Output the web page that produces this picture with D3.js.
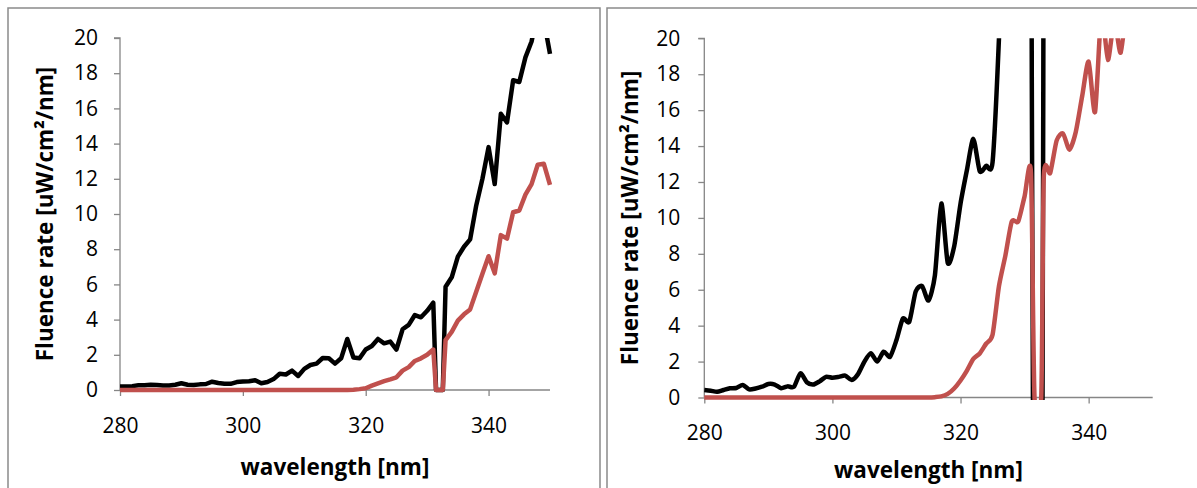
<!DOCTYPE html>
<html><head><meta charset="utf-8">
<script src="https://cdn.jsdelivr.net/npm/d3@7"></script>
<style>
html,body{margin:0;padding:0;background:#fff;}
svg{display:block;}
text{font-family:"Open Sans",sans-serif;}
</style></head>
<body>
<svg id="chart" width="1197" height="488"></svg>
<script>
// ---------- DATA ----------
const xTicks = [280, 300, 320, 340];
const yTicks = [0, 2, 4, 6, 8, 10, 12, 14, 16, 18, 20];
const xTitle = "wavelength [nm]";
const yTitle = "Fluence rate [uW/cm²/nm]";

// Left panel
const leftWl = [280,281,282,283,284,285,286,287,288,289,290,291,292,293,294,295,296,297,298,299,
  300,301,302,303,304,305,306,307,308,309,310,311,312,313,314,315,316,317,318,319,
  320,321,322,323,324,325,326,327,328,329,330,331,331.45,332.55,333,334,335,336,337,338,339,
  340,341,342,343,344,345,346,347,348,349,350];
const leftBlack = [0.2,0.2,0.22,0.27,0.27,0.3,0.28,0.25,0.26,0.3,0.38,0.3,0.28,0.32,0.34,0.47,0.4,0.35,0.35,0.45,
  0.48,0.5,0.55,0.38,0.45,0.62,0.92,0.88,1.1,0.8,1.2,1.42,1.5,1.82,1.8,1.5,1.8,2.9,1.85,1.8,
  2.3,2.5,2.9,2.65,2.75,2.3,3.45,3.7,4.26,4.13,4.5,4.96,0,0,5.87,6.4,7.58,8.14,8.56,10.5,12.0,
  13.8,11.7,15.7,15.2,17.6,17.5,18.9,19.8,21.5,21.0,19.1];
const leftRed = [0,0,0,0,0,0,0,0,0,0,0,0,0,0,0,0,0,0,0,0,
  0,0,0,0,0,0,0,0,0,0,0,0,0,0,0,0,0,0,0.02,0.05,
  0.1,0.25,0.38,0.5,0.6,0.72,1.1,1.3,1.65,1.8,2.0,2.3,0,0,2.84,3.3,3.94,4.3,4.58,5.6,6.6,
  7.6,6.63,8.8,8.6,10.1,10.2,11.1,11.7,12.8,12.85,11.65];

// Right panel
const rightBlackWl = [280,281,282,283,284,285,286,287,288,289,290,291,292,293,294,295,296,297,298,299,
  300,301,302,303,304,305,306,307,308,309,310,311,312,313,314,315,316,317,318,319,
  320,321,322,323,324,325,326,327,328,329,330,331,331.3,332.8,333,334,335,336,337,338,339,
  340,341,342,343,344,345,346,347,348,349,350];
const rightBlack = [0.42,0.38,0.32,0.42,0.51,0.53,0.7,0.45,0.5,0.6,0.75,0.72,0.52,0.62,0.6,1.35,0.85,0.72,0.9,1.15,
  1.1,1.15,1.22,0.97,1.3,2.0,2.46,2.0,2.55,2.27,3.2,4.4,4.22,5.9,6.2,5.4,6.8,10.8,7.5,8.4,
  10.8,12.67,14.4,12.6,12.9,13.1,20,30,33,35,35,35,0,0,35,36,37,38,39,40,41,
  42,43,44,45,46,47,48,49,50,51,52];
const rightRedWl = [280,281,282,283,284,285,286,287,288,289,290,291,292,293,294,295,296,297,298,299,
  300,301,302,303,304,305,306,307,308,309,310,311,312,313,314,315,316,317,318,319,
  320,321,322,323,324,325,326,327,328,329,330,331,331.55,332.6,333,334,335,336,337,338,339,
  340,341,342,343,344,345,346,347,348,349,350];
const rightRed = [0,0,0,0,0,0,0,0,0,0,0,0,0,0,0,0,0,0,0,0,
  0,0,0,0,0,0,0,0,0,0,0,0,0,0,0,0,0.02,0.06,0.2,0.5,
  0.95,1.5,2.15,2.45,3.0,3.5,6.2,7.9,9.8,9.8,11.2,12.5,0,0,12.3,12.5,14.3,14.7,13.8,14.8,16.8,
  18.7,15.9,21.5,18.8,21.0,19.2,22,23,24,24.5,25];

const colBlack = "#000000";
const colRed = "#C0504D";

// ---------- DRAW ----------
const svg = d3.select("#chart");
svg.append("rect").attr("width",1197).attr("height",488).attr("fill","#fff");

// panel borders
svg.append("rect").attr("x",8).attr("y",8).attr("width",592).attr("height",520)
  .attr("fill","none").attr("stroke","#8a8a8a").attr("stroke-width",1.5);
svg.append("rect").attr("x",607).attr("y",8).attr("width",620).attr("height",520)
  .attr("fill","none").attr("stroke","#8a8a8a").attr("stroke-width",1.5);

function drawPanel(cfg){
  const g = svg.append("g");
  const x = d3.scaleLinear().domain([280,350]).range([cfg.x0, cfg.x1]);
  const y = d3.scaleLinear().domain([0,20]).range([cfg.y0, cfg.y1]);

  const clipId = "clip" + cfg.id;
  svg.append("clipPath").attr("id", clipId).append("rect")
    .attr("x", cfg.x0 - 5).attr("y", cfg.y1).attr("width", cfg.x1 - cfg.x0 + 10)
    .attr("height", cfg.y0 - cfg.y1 + cfg.clipBottom);

  // y axis
  const ya = g.append("g").attr("transform",`translate(${cfg.x0},0)`)
    .call(d3.axisLeft(y).tickValues(yTicks).tickSize(6).tickPadding(cfg.yPad).tickFormat(d3.format("d")));
  ya.select(".domain").attr("stroke","#868686").attr("stroke-width",1.3).attr("d",`M-6,${cfg.y1}H0V${cfg.y0}`);
  ya.selectAll(".tick line").attr("stroke","#868686").attr("stroke-width",1.3);
  ya.selectAll(".tick text").attr("font-family","Open Sans").attr("font-size",21).attr("fill","#000");

  // x axis
  const xa = g.append("g").attr("transform",`translate(0,${cfg.y0})`)
    .call(d3.axisBottom(x).tickValues(xTicks).tickSize(6).tickPadding(cfg.xPad).tickFormat(d3.format("d")));
  xa.select(".domain").attr("stroke","#868686").attr("stroke-width",1.3).attr("d",`M${cfg.x0},0H${cfg.x1}`);
  xa.selectAll(".tick line").attr("stroke","#868686").attr("stroke-width",1.3);
  xa.selectAll(".tick text").attr("font-family","Open Sans").attr("font-size",21).attr("fill","#000");

  // titles
  g.append("text").attr("x",(cfg.x0+cfg.x1)/2).attr("y",cfg.xTitleY).attr("dy","0.35em")
    .attr("text-anchor","middle").attr("font-weight","bold").attr("font-size",22.5).text(xTitle);
  g.append("text").attr("transform",`translate(${cfg.yTitleX},${(cfg.y0+cfg.y1)/2}) rotate(-90)`)
    .attr("dy","0.35em").attr("text-anchor","middle").attr("font-weight","bold").attr("font-size",22.5).text(yTitle);

  const lineFor = wl => d3.line().x((d,i)=>x(wl[i])).y(d=>y(d)).curve(cfg.curve);
  const lg = g.append("g").attr("clip-path",`url(#${clipId})`);
  lg.append("path").datum(cfg.black).attr("d",lineFor(cfg.blackWl)).attr("fill","none")
    .attr("stroke",colBlack).attr("stroke-width",cfg.sw).attr("stroke-linejoin","round");
  lg.append("path").datum(cfg.red).attr("d",lineFor(cfg.redWl)).attr("fill","none")
    .attr("stroke",colRed).attr("stroke-width",cfg.sw).attr("stroke-linejoin","round");
}

drawPanel({id:"L", x0:120, x1:550, y0:390, y1:38, blackWl:leftWl, redWl:leftWl, black:leftBlack, red:leftRed,
  curve:d3.curveLinear, sw:4.5, yPad:16, xPad:22, xTitleY:467, yTitleX:45, clipBottom:3});
drawPanel({id:"R", x0:704.3, x1:1152.7, y0:397.5, y1:38.3, blackWl:rightBlackWl, redWl:rightRedWl, black:rightBlack, red:rightRed,
  curve:d3.curveCardinal.tension(0.3), sw:4.5, yPad:18, xPad:22, xTitleY:470, yTitleX:630, clipBottom:2.5});
</script>
</body></html>
